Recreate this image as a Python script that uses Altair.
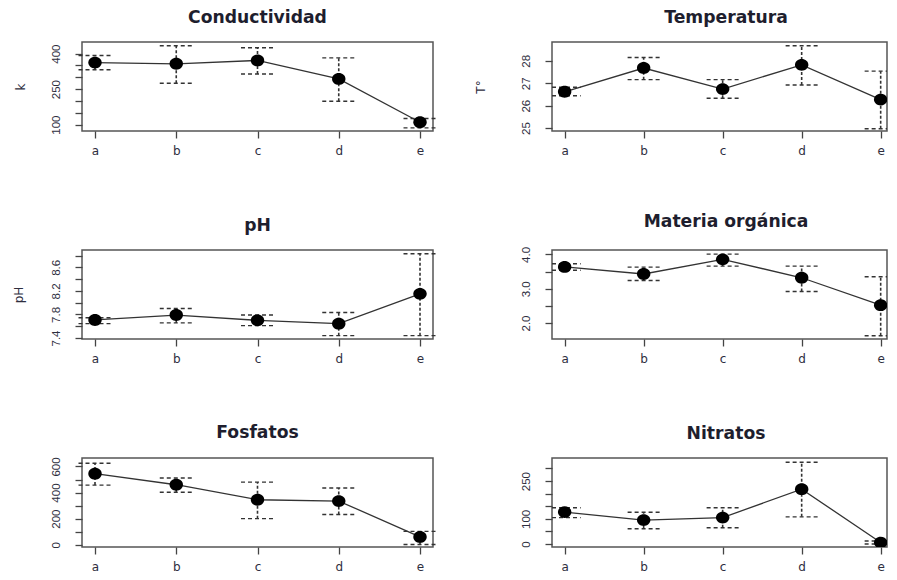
import altair as alt
import pandas as pd

cats = ["a", "b", "c", "d", "e"]

cond_mean = [362, 357, 371, 293, 110]
cond_lo = [332, 275, 314, 199, 86]
cond_hi = [392, 433, 425, 382, 126]

temp_mean = [26.62, 27.68, 26.74, 27.82, 26.27]
temp_lo = [26.44, 27.16, 26.33, 26.92, 24.97]
temp_hi = [26.82, 28.15, 27.16, 28.67, 27.54]

ph_mean = [7.706, 7.79, 7.70, 7.644, 8.15]
ph_lo = [7.644, 7.656, 7.61, 7.44, 7.44]
ph_hi = [7.744, 7.90, 7.79, 7.833, 8.83]

mo_mean = [3.636, 3.43, 3.857, 3.32, 2.52]
mo_lo = [3.54, 3.24, 3.66, 2.92, 1.63]
mo_hi = [3.73, 3.63, 4.01, 3.66, 3.35]

fos_mean = [545, 460, 345, 335, 60]
fos_lo = [457, 402, 200, 232, 2]
fos_hi = [625, 512, 480, 435, 102]

nit_mean = [127, 95, 105, 218, 6]
nit_lo = [105, 61, 65, 108, 0]
nit_hi = [144, 126, 144, 325, 12]

cond_ticks = [100, 150, 200, 250, 300, 350, 400]
cond_labels = ["100", "250", "400"]
temp_ticks = [25, 26, 27, 28]
temp_labels = ["25", "26", "27", "28"]
ph_ticks = [7.4, 7.6, 7.8, 8.0, 8.2, 8.4, 8.6, 8.8]
ph_labels = ["7.4", "7.8", "8.2", "8.6"]
mo_ticks = [2.0, 2.5, 3.0, 3.5, 4.0]
mo_labels = ["2.0", "3.0", "4.0"]
fos_ticks = [0, 100, 200, 300, 400, 500, 600]
fos_labels = ["0", "200", "400", "600"]
nit_ticks = [0, 50, 100, 150, 200, 250, 300]
nit_labels = ["0", "100", "250"]

INK = "#333333"
TXT = "#2e2e3e"
CAP = 0.203
H = 89
ELLIPSE = "M-1,0A1,0.88,0,1,0,1,0A1,0.88,0,1,0,-1,0Z"


def panel(title, ytitle, ytitle_x, mean, lo, hi, ydom, ticks, labels, fmt,
          right=False):
    df = pd.DataFrame({
        "cat": cats,
        "idx": [i + 1 for i in range(len(cats))],
        "mean": mean,
        "lo": lo,
        "hi": hi,
    })
    df["xl"] = df["idx"] - CAP
    df["xr"] = df["idx"] + CAP
    xdom = [0.84, 5.08] if right else [0.84, 5.16]
    w = 335 if right else 351
    lab_list = ",".join("'%s'" % l for l in labels)
    yaxis_kw = dict(
        values=ticks, format=fmt,
        labelExpr="indexof([%s], datum.label) >= 0 ? datum.label : ''" % lab_list,
        labelOverlap=False, labelAngle=270, labelAlign="center",
        labelBaseline="bottom", labelPadding=14, tickSize=7,
        labelFont="Liberation Sans", labelFontSize=11.5, labelColor=TXT,
        tickColor="#444444", tickWidth=1.3, domain=False, grid=False,
        labelFlush=False, labelBound=False,
    )
    if ytitle:
        yaxis_kw.update(title=ytitle, titleAngle=270, titleX=ytitle_x, titleY=H / 2,
                        titleAlign="center", titleBaseline="middle",
                        titleFont="DejaVu Sans", titleFontSize=12,
                        titleFontWeight="normal", titleColor=TXT)
    else:
        yaxis_kw.update(title=None)
    yaxis = alt.Axis(**yaxis_kw)
    xaxis = alt.Axis(values=[1, 2, 3, 4, 5],
                     labelExpr="['a','b','c','d','e'][datum.value-1]",
                     tickSize=7, labelPadding=7, labelFont="DejaVu Sans",
                     labelFontSize=12, labelColor=TXT, tickColor="#444444",
                     tickWidth=1.3, domain=False, grid=False, title=None,
                     labelOverlap=False, labelFlush=False)
    xscale = alt.Scale(domain=xdom, nice=False, zero=False, clamp=right)
    yscale = alt.Scale(domain=ydom, nice=False, zero=False)
    base = alt.Chart(df)
    clip = right
    line = base.mark_line(color=INK, strokeWidth=1.3, clip=clip).encode(
        x=alt.X("idx:Q", scale=xscale, axis=xaxis),
        y=alt.Y("mean:Q", scale=yscale, axis=yaxis))
    err = base.mark_rule(color=INK, strokeWidth=1.6, strokeDash=[3, 2], clip=clip).encode(
        x=alt.X("idx:Q", scale=xscale, axis=xaxis),
        y=alt.Y("lo:Q", scale=yscale, axis=yaxis), y2="hi:Q")
    cap_hi = base.mark_rule(color=INK, strokeWidth=1.4, strokeDash=[4, 3], clip=clip).encode(
        x=alt.X("xl:Q", scale=xscale, axis=xaxis), x2="xr:Q",
        y=alt.Y("hi:Q", scale=yscale, axis=yaxis))
    cap_lo = base.mark_rule(color=INK, strokeWidth=1.4, strokeDash=[4, 3], clip=clip).encode(
        x=alt.X("xl:Q", scale=xscale, axis=xaxis), x2="xr:Q",
        y=alt.Y("lo:Q", scale=yscale, axis=yaxis))
    pts = base.mark_point(shape=ELLIPSE, filled=True, size=180, color="#000000",
                          opacity=1, clip=clip).encode(
        x=alt.X("idx:Q", scale=xscale, axis=xaxis),
        y=alt.Y("mean:Q", scale=yscale, axis=yaxis))
    ch = alt.layer(line, err, cap_hi, cap_lo, pts).properties(
        width=w, height=H,
        title=alt.TitleParams(title, frame="group", anchor="middle", offset=2,
                              baseline="alphabetic", font="DejaVu Sans", fontSize=17.2,
                              fontWeight="bold", color="#1e1e2e",
                              dx=6.5 if right else 0),
    )
    return ch


p1 = panel("Conductividad", "k", -62, cond_mean, cond_lo, cond_hi, [73, 449],
           cond_ticks, cond_labels, "d")
p2 = panel("Temperatura", "T°", -72, temp_mean, temp_lo, temp_hi, [24.87, 28.84],
           temp_ticks, temp_labels, "d", right=True)
p3 = panel("pH", "pH", -64, ph_mean, ph_lo, ph_hi, [7.383, 8.894],
           ph_ticks, ph_labels, ".1f")
p4 = panel("Materia orgánica", None, 0, mo_mean, mo_lo, mo_hi, [1.533, 4.13],
           mo_ticks, mo_labels, ".1f", right=True)
p5 = panel("Fosfatos", None, 0, fos_mean, fos_lo, fos_hi, [-17.5, 665],
           fos_ticks, fos_labels, "d")
p6 = panel("Nitratos", None, 0, nit_mean, nit_lo, nit_hi, [-11.7, 341.6],
           nit_ticks, nit_labels, "d", right=True)

chart = alt.concat(p1, p2, p3, p4, p5, p6, columns=2,
                   spacing={"row": 119, "column": 119}, bounds="flush").properties(
    padding={"left": 3, "top": 0, "right": 0, "bottom": 0},
    background="white",
).configure_view(stroke="#555555", strokeWidth=1.5)

chart.save("out.html", embed_options={"renderer": "svg", "actions": False})
